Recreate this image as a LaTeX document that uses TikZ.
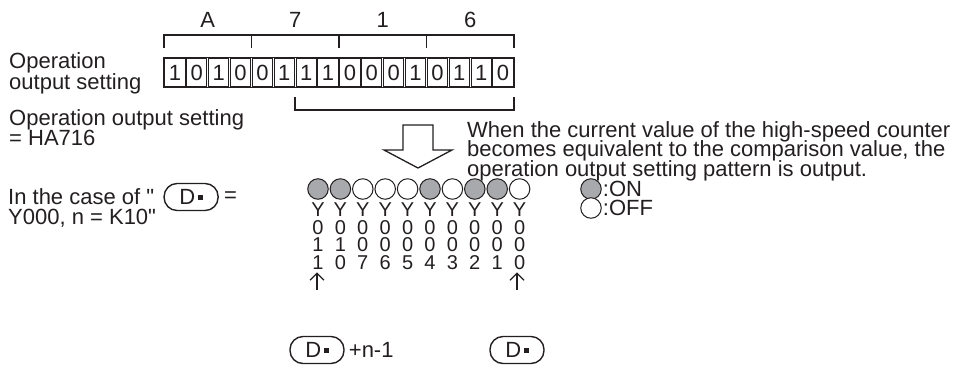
\documentclass[tikz,border=0pt]{standalone}
\usepackage{fontspec}
\newfontfamily\lsans{Liberation Sans}
\usepackage{xcolor}
\usetikzlibrary{positioning,arrows.meta,fit,calc}
\definecolor{ink}{HTML}{231F20}
\definecolor{lampon}{HTML}{A7A9AC}
\newcommand{\dv}{D\hspace{2.5pt}\raisebox{4.5pt}{\rule{5pt}{5pt}}}
\newcommand{\tight}{\lineskiplimit=-100pt\lineskip=0pt}

\begin{document}
\begin{tikzpicture}[x=1pt, y=-1pt,
  txt/.style={inner sep=0pt, align=left, text=ink, font=\lsans\fontsize{22}{20}\selectfont\tight},
  bit/.style={draw=ink, line width=1pt, minimum width=20.2pt, minimum height=28pt, inner sep=0pt, text=ink, font=\lsans\fontsize{22}{22}\selectfont},
  reg/.style={draw=ink, line width=1pt, inner sep=0.8pt},
  brk/.style={draw=ink, line width=1.8pt},
  lampon/.style={circle, draw=ink, line width=1pt, fill=lampon, minimum size=20.5pt, inner sep=0pt},
  lampoff/.style={circle, draw=ink, line width=1pt, fill=white, minimum size=20.5pt, inner sep=0pt},
  col/.style={inner sep=0pt, align=center, text=ink, font=\lsans\fontsize{20}{17.5}\selectfont\tight},
  dev/.style={draw=ink, line width=1.4pt, rounded corners=13pt, minimum width=54pt, minimum height=27pt, inner sep=0pt, text=ink, font=\lsans\fontsize{22}{22}\selectfont},
  arr/.style={-{Straight Barb[length=7pt, width=14pt]}, draw=ink, line width=1.2pt}
]
\useasboundingbox (0,0) rectangle (964,365);

% register bits
\node[bit] (b15) at (174.94,72.5) {1};
\node[bit] (b14) at (196.81,72.5) {0};
\node[bit] (b13) at (218.69,72.5) {1};
\node[bit] (b12) at (240.56,72.5) {0};
\node[bit] (b11) at (262.44,72.5) {0};
\node[bit] (b10) at (284.31,72.5) {1};
\node[bit] (b9)  at (306.19,72.5) {1};
\node[bit] (b8)  at (328.06,72.5) {1};
\node[bit] (b7)  at (349.94,72.5) {0};
\node[bit] (b6)  at (371.81,72.5) {0};
\node[bit] (b5)  at (393.69,72.5) {0};
\node[bit] (b4)  at (415.56,72.5) {1};
\node[bit] (b3)  at (437.44,72.5) {0};
\node[bit] (b2)  at (459.31,72.5) {1};
\node[bit] (b1)  at (481.19,72.5) {1};
\node[bit] (b0)  at (503.06,72.5) {0};
\node[reg, fit=(b15)(b0)] (rg) {};

% hex digits
\node[txt] (hA) at (207.75,20) {A};
\node[txt] (h7) at (295.25,20) {7};
\node[txt] (h1) at (382.75,20) {1};
\node[txt] (h6) at (470.25,20) {6};
\draw[brk] (164,48) -- (164,35) -- (514,35) -- (514,48);
\draw[brk] (251.5,35) -- (251.5,48);
\draw[brk] (339,35) -- (339,48);
\draw[brk] (426.5,35) -- (426.5,48);
\draw[brk] (295.25,97) -- (295.25,110) -- (514,110) -- (514,97);

\node[txt, anchor=west, font=\lsans\fontsize{22}{21}\selectfont\tight] (lbl) at (9,73) {Operation\\output setting};
\node[txt, anchor=west] (val) at (9,128) {Operation output setting\\= HA716};

% hollow arrow
\draw[ink, line width=1.3pt] (403,125) -- (433,125) -- (433,150) -- (452,150) -- (418,168) -- (384,150) -- (403,150) -- cycle;

\node[txt, anchor=west, font=\lsans\fontsize{22}{19.5}\selectfont\tight] (note) at (467,151)
  {When the current value of the high-speed counter\\becomes equivalent to the comparison value, the\\operation output setting pattern is output.};

% outputs
\node[lampon]  (l9) at (318,189)   {};
\node[lampon]  (l8) at (340.4,189) {};
\node[lampoff] (l7) at (362.8,189) {};
\node[lampoff] (l6) at (385.2,189) {};
\node[lampoff] (l5) at (407.6,189) {};
\node[lampon]  (l4) at (430,189)   {};
\node[lampoff] (l3) at (452.4,189) {};
\node[lampon]  (l2) at (474.8,189) {};
\node[lampon]  (l1) at (497.2,189) {};
\node[lampoff] (l0) at (519.6,189) {};

\node[col] (c9) at (318,236)   {Y\\0\\1\\1};
\node[col] (c8) at (340.4,236) {Y\\0\\1\\0};
\node[col] (c7) at (362.8,236) {Y\\0\\0\\7};
\node[col] (c6) at (385.2,236) {Y\\0\\0\\6};
\node[col] (c5) at (407.6,236) {Y\\0\\0\\5};
\node[col] (c4) at (430,236)   {Y\\0\\0\\4};
\node[col] (c3) at (452.4,236) {Y\\0\\0\\3};
\node[col] (c2) at (474.8,236) {Y\\0\\0\\2};
\node[col] (c1) at (497.2,236) {Y\\0\\0\\1};
\node[col] (c0) at (519.6,236) {Y\\0\\0\\0};

% legend
\node[lampon]  (kon)  at (591,189) {};
\node[lampoff] (koff) at (591,208) {};
\node[txt, right=1pt of kon]  (ton)  {:ON};
\node[txt, right=1pt of koff] (toff) {:OFF};

% case
\node[txt, anchor=west] (case1) at (8,197) {In the case of "};
\node[dev, right=9pt of case1] (dc) {\dv};
\node[txt, right=5pt of dc] (eq) {=};
\node[txt, anchor=west] (case2) at (8,218) {Y000, n = K10"};

% head devices
\node[dev] (dl) at (317,350) {\dv};
\node[txt, right=4pt of dl] (nl) {+n-1};
\node[dev] (dr) at (517,350) {\dv};
\draw[arr, shorten <=46pt, shorten >=3pt] (dl.north) -- (dl.north |- c9.south);
\draw[arr, shorten <=46pt, shorten >=3pt] (dr.north) -- (dr.north |- c0.south);

\end{tikzpicture}
\end{document}
